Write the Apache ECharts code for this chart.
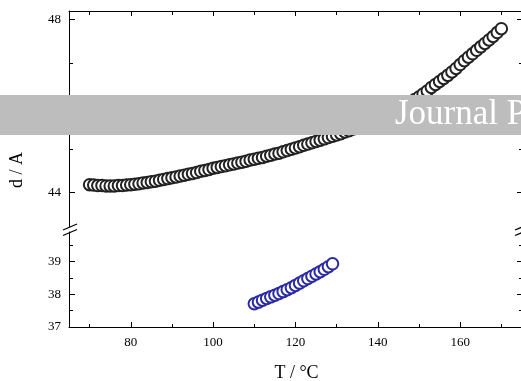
<!DOCTYPE html>
<html>
<head>
<meta charset="utf-8">
<script src="https://cdn.jsdelivr.net/npm/echarts@6/dist/echarts.min.js"></script>
<style>
  html, body { margin: 0; padding: 0; background: #fff; }
  #chart { width: 521px; height: 381px; }
</style>
</head>
<body>
<div id="chart"></div>
<script>
// upper branch, black circles (T every 1 °C)
const upperT = [70, 71, 72, 73, 74, 75, 76, 77, 78, 79,
  80, 81, 82, 83, 84, 85, 86, 87, 88, 89,
  90, 91, 92, 93, 94, 95, 96, 97, 98, 99,
  100, 101, 102, 103, 104, 105, 106, 107, 108, 109,
  110, 111, 112, 113, 114, 115, 116, 117, 118, 119,
  120, 121, 122, 123, 124, 125, 126, 127, 128, 129,
  130, 131, 132, 133, 134, 135, 136, 137, 138, 139,
  140, 141, 142, 143, 144, 145, 146, 147, 148, 149,
  150, 151, 152, 153, 154, 155, 156, 157, 158, 159,
  160, 161, 162, 163, 164, 165, 166, 167, 168, 169, 170]
const upperD = [44.18, 44.17, 44.16, 44.16, 44.15, 44.15, 44.15, 44.16, 44.16, 44.17,
  44.18, 44.19, 44.20, 44.22, 44.23, 44.25, 44.26, 44.28, 44.30, 44.32,
  44.34, 44.36, 44.38, 44.40, 44.42, 44.44, 44.46, 44.49, 44.51, 44.53,
  44.56, 44.58, 44.60, 44.62, 44.64, 44.66, 44.68, 44.70, 44.72, 44.75,
  44.77, 44.79, 44.81, 44.84, 44.86, 44.89, 44.91, 44.94, 44.97, 45.00,
  45.03, 45.06, 45.09, 45.12, 45.15, 45.18, 45.21, 45.24, 45.27, 45.30,
  45.33, 45.36, 45.40, 45.43, 45.47, 45.50, 45.54, 45.58, 45.62, 45.66,
  45.70, 45.75, 45.80, 45.84, 45.89, 45.94, 45.99, 46.04, 46.09, 46.15,
  46.21, 46.28, 46.35, 46.43, 46.50, 46.57, 46.64, 46.71, 46.79, 46.87,
  46.96, 47.05, 47.13, 47.21, 47.29, 47.37, 47.45, 47.53, 47.61, 47.70, 47.79]

// lower branch, blue circles
const lowerT = [110, 111, 112, 113, 114, 115, 116, 117, 118, 119,
  120, 121, 122, 123, 124, 125, 126, 127, 128, 129]
const lowerD = [37.71, 37.76, 37.82, 37.87, 37.92, 37.97, 38.02, 38.08, 38.14, 38.20,
  38.27, 38.34, 38.41, 38.48, 38.55, 38.62, 38.69, 38.76, 38.84, 38.93]

// tick positions
const xMajor = [80, 100, 120, 140, 160]
const xMinor = [70, 90, 110, 130, 150, 170]
const upMajor = [44, 48]
const upMinor = [45, 46, 47]
const lowMajor = [37, 38, 39]
const lowMinor = [37.5, 38.5, 39.5]

const chart = echarts.init(document.getElementById('chart'))

const font = 'Liberation Serif'
const lineStyle = { color: '#000', width: 1 }

// helper for an axis that only draws ticks (and maybe a line / labels)
const xAx = (grid, pos, ticks, len, line, labels) => ({
  type: 'value', gridIndex: grid, position: pos, min: 65, max: 175.5,
  axisLine: { show: line, lineStyle },
  axisTick: { show: true, inside: true, length: len, customValues: ticks, lineStyle },
  axisLabel: labels
    ? { show: true, customValues: labels, color: '#000', fontFamily: font, fontSize: 13, margin: 9 }
    : { show: false },
  splitLine: { show: false }
})
const yAx = (grid, pos, min, max, ticks, len, line, labels) => ({
  type: 'value', gridIndex: grid, position: pos, min: min, max: max,
  axisLine: { show: line, lineStyle },
  axisTick: { show: true, inside: true, length: len, customValues: ticks, lineStyle },
  axisLabel: labels
    ? { show: true, customValues: labels, color: '#000', fontFamily: font, fontSize: 13, margin: 8 }
    : { show: false },
  splitLine: { show: false }
})

const xBottom = xAx(1, 'bottom', xMajor, 5, true, xMajor)
xBottom.name = 'T / °C'
xBottom.nameLocation = 'middle'
xBottom.nameGap = 37
xBottom.nameTextStyle = { color: '#000', fontFamily: font, fontSize: 18 }

const option = {
  backgroundColor: '#fff',
  animation: false,
  grid: [
    { left: 69, top: 11, width: 455, height: 216, outerBoundsMode: 'none', containLabel: false },
    { left: 69, top: 232, width: 455, height: 95, outerBoundsMode: 'none', containLabel: false }
  ],
  xAxis: [
    xAx(0, 'top', xMajor, 5, true, null),
    xAx(0, 'top', xMinor, 4, false, null),
    xBottom,
    xAx(1, 'bottom', xMinor, 3, false, null)
  ],
  yAxis: [
    yAx(0, 'left', 43.2, 48.2, upMajor, 6, true, upMajor),
    yAx(0, 'left', 43.2, 48.2, upMinor, 4, false, null),
    yAx(0, 'right', 43.2, 48.2, upMajor, 7, false, null),
    yAx(0, 'right', 43.2, 48.2, upMinor, 5, false, null),
    yAx(1, 'left', 37, 39.9, lowMajor, 6, true, lowMajor),
    yAx(1, 'left', 37, 39.9, lowMinor, 4, false, null),
    yAx(1, 'right', 37, 39.9, lowMajor, 7, false, null),
    yAx(1, 'right', 37, 39.9, lowMinor, 5, false, null)
  ],
  series: [
    {
      type: 'scatter', xAxisIndex: 0, yAxisIndex: 0,
      symbol: 'emptyCircle', symbolSize: 11.5,
      itemStyle: { color: '#222', borderColor: '#222', borderWidth: 0.7, opacity: 1 },
      data: upperT.map((t, i) => [t, upperD[i]]),
      z: 2
    },
    {
      type: 'scatter', xAxisIndex: 2, yAxisIndex: 4,
      symbol: 'emptyCircle', symbolSize: 11.5,
      itemStyle: { color: '#2a2aa6', borderColor: '#2a2aa6', borderWidth: 0.7, opacity: 1 },
      data: lowerT.map((t, i) => [t, lowerD[i]]),
      z: 2
    }
  ],
  graphic: [
    // y axis title
    {
      type: 'text', left: 8, top: 152, rotation: Math.PI / 2,
      style: { text: 'd / A', fill: '#000', font: '18px "Liberation Serif"' },
      z: 10
    },
    // axis break marks, left
    { type: 'line', shape: { x1: 63, y1: 230, x2: 77, y2: 224 }, style: { stroke: '#000', lineWidth: 1.3 }, z: 10 },
    { type: 'line', shape: { x1: 63, y1: 235.5, x2: 77, y2: 229.5 }, style: { stroke: '#000', lineWidth: 1.3 }, z: 10 },
    // axis break marks, right
    { type: 'line', shape: { x1: 515, y1: 230, x2: 529, y2: 224 }, style: { stroke: '#000', lineWidth: 1.3 }, z: 10 },
    { type: 'line', shape: { x1: 515, y1: 235.5, x2: 529, y2: 229.5 }, style: { stroke: '#000', lineWidth: 1.3 }, z: 10 },
    // watermark banner
    { type: 'rect', shape: { x: 0, y: 95, width: 521, height: 40 }, style: { fill: '#bdbdbd' }, z: 20 },
    {
      type: 'text', x: 395, y: 115, z: 21,
      style: { text: 'Journal Pre-proof', fill: '#fff', font: '35px "Liberation Serif"', verticalAlign: 'middle' }
    }
  ]
}

chart.setOption(option)
</script>
</body>
</html>
